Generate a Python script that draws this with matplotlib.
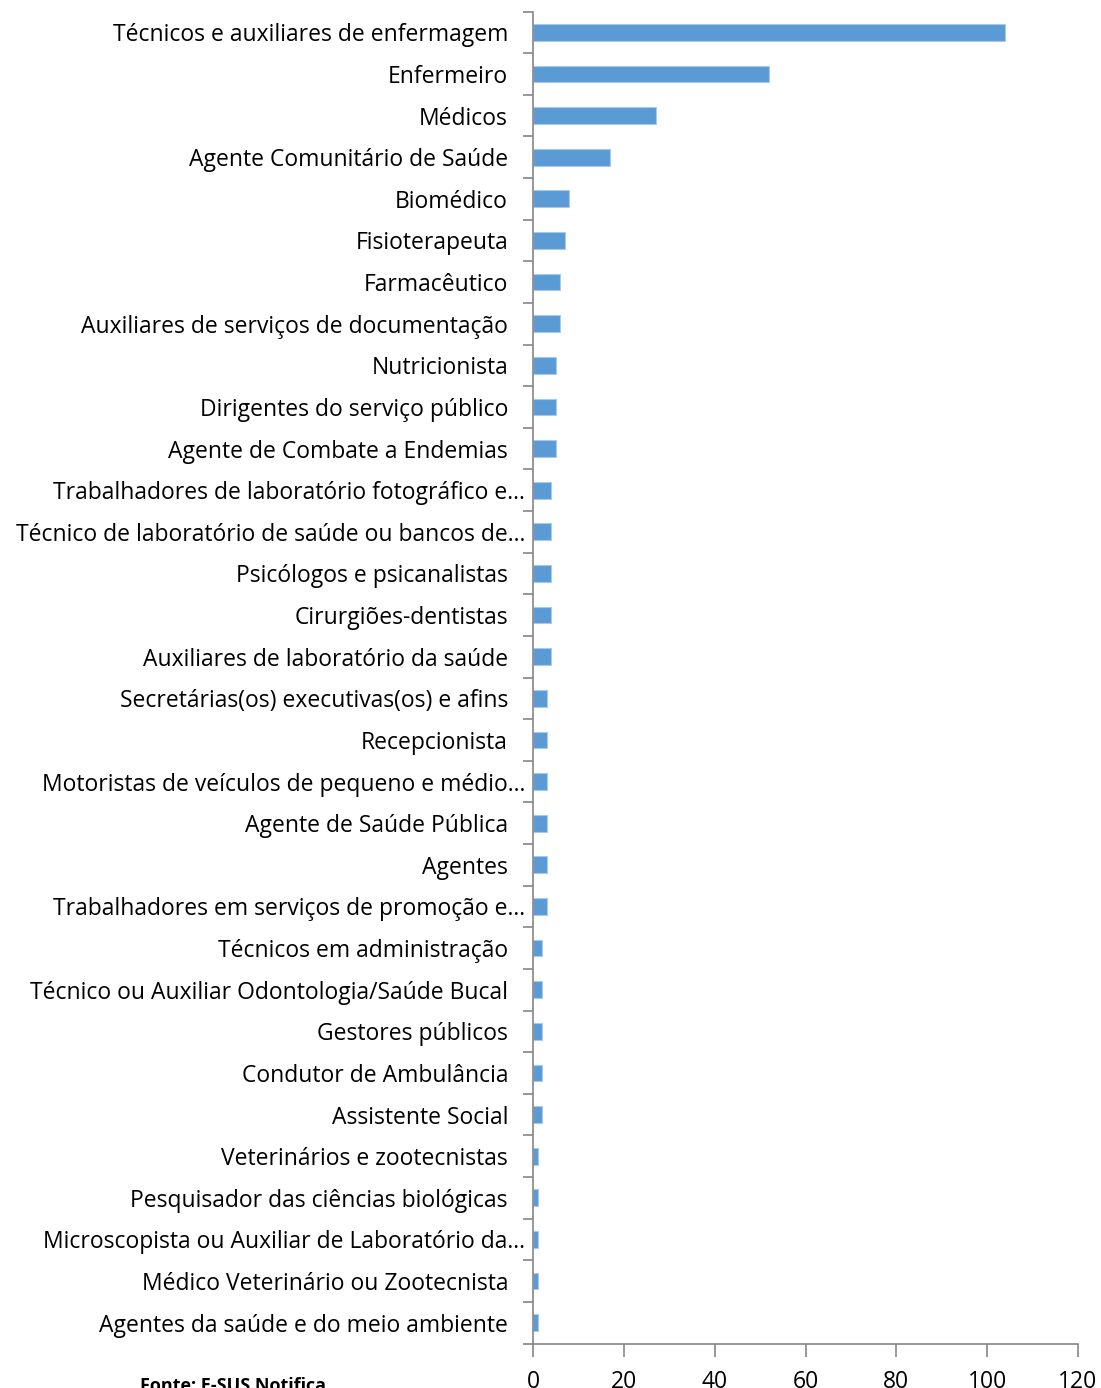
import matplotlib
matplotlib.use("Agg")
import matplotlib.pyplot as plt
from matplotlib.transforms import ScaledTranslation

categorias = [
    "Técnicos e auxiliares de enfermagem",
    "Enfermeiro",
    "Médicos",
    "Agente Comunitário de Saúde",
    "Biomédico",
    "Fisioterapeuta",
    "Farmacêutico",
    "Auxiliares de serviços de documentação",
    "Nutricionista",
    "Dirigentes do serviço público",
    "Agente de Combate a Endemias",
    "Trabalhadores de laboratório fotográfico e…",
    "Técnico de laboratório de saúde ou bancos de…",
    "Psicólogos e psicanalistas",
    "Cirurgiões-dentistas",
    "Auxiliares de laboratório da saúde",
    "Secretárias(os) executivas(os) e afins",
    "Recepcionista",
    "Motoristas de veículos de pequeno e médio…",
    "Agente de Saúde Pública",
    "Agentes",
    "Trabalhadores em serviços de promoção e…",
    "Técnicos em administração",
    "Técnico ou Auxiliar Odontologia/Saúde Bucal",
    "Gestores públicos",
    "Condutor de Ambulância",
    "Assistente Social",
    "Veterinários e zootecnistas",
    "Pesquisador das ciências biológicas",
    "Microscopista ou Auxiliar de Laboratório da…",
    "Médico Veterinário ou Zootecnista",
    "Agentes da saúde e do meio ambiente",
]
valores = [104, 52, 27, 17, 8, 7, 6, 6, 5, 5, 5, 4, 4, 4, 4, 4,
           3, 3, 3, 3, 3, 3, 2, 2, 2, 2, 2, 1, 1, 1, 1, 1]
xticks = [0, 20, 40, 60, 80, 100, 120]
fonte = "Fonte: E-SUS Notifica"

plt.rcParams['font.family'] = ['Open Sans', 'DejaVu Sans']

W, H = 1101, 1388
fig = plt.figure(figsize=(W / 100, H / 100), dpi=100)
n = len(categorias)
ax = fig.add_axes([533 / W, 1 - 1343.5 / H, (1078 - 533) / W, (1343.5 - 11.5) / H])

pos = list(range(n))
ax.barh(pos, valores, height=0.4, color='#5B9BD5', edgecolor='#a9c9ea', linewidth=0.8)
ax.set_ylim(n - 0.5, -0.5)
ax.set_xlim(0, 120)

ax.set_yticks(pos)
ax.set_yticklabels(categorias, fontsize=16.5, color='black')
ax.set_yticks([i + 0.5 for i in range(-1, n)], minor=True)
ax.tick_params(axis='y', which='major', length=0, pad=18)
ax.tick_params(axis='y', which='minor', length=7, width=1.2, color='#868686', direction='out')

ax.set_xticks(xticks)
ax.set_xticklabels([str(v) for v in xticks], fontsize=16.5)
ax.tick_params(axis='x', length=9, width=1.2, color='#868686', direction='out', pad=10)

for s in ['top', 'right']:
    ax.spines[s].set_visible(False)
for s in ['left', 'bottom']:
    ax.spines[s].set_color('#868686')
    ax.spines[s].set_linewidth(1.2)

# truncated labels sit slightly further right
for lab in ax.get_yticklabels():
    if lab.get_text().endswith('…'):
        lab.set_transform(lab.get_transform() + ScaledTranslation(17 / 100, 0, fig.dpi_scale_trans))

fig.text(140 / W, 1 - 1377 / H, fonte, fontsize=13, fontweight='bold', va='top', ha='left')

fig.savefig("out.png", dpi=100)
